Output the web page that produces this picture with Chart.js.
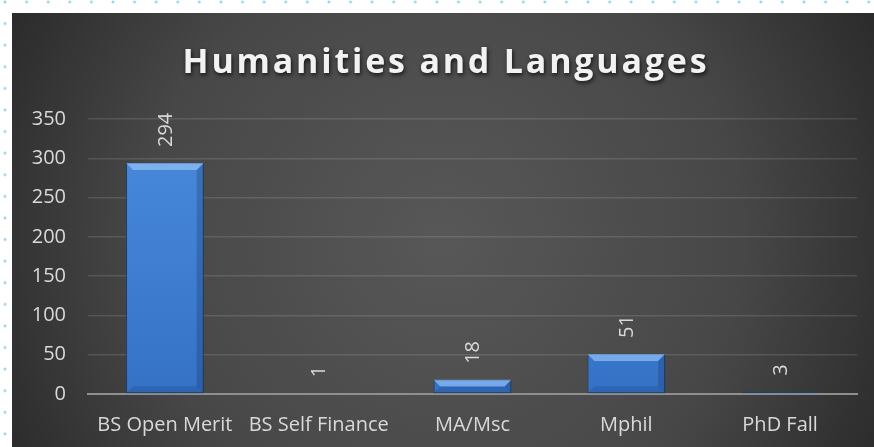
<!DOCTYPE html>
<html>
<head>
<meta charset="utf-8">
<script src="https://cdn.jsdelivr.net/npm/chart.js@4"></script>
<style>
  html, body { margin: 0; padding: 0; }
  body {
    width: 874px; height: 447px; position: relative; overflow: hidden;
    background-color: #fff;
    background-image: radial-gradient(circle, #9ad6ea 1.3px, transparent 1.7px);
    background-size: 21.6px 21.6px;
    background-position: -5.8px -8.8px;
  }
  #wrap { position: absolute; left: 12px; top: 13px; width: 862px; height: 434px; }
</style>
</head>
<body>
<div id="wrap"><canvas id="myChart" width="862" height="434"></canvas></div>
<script>
const titleText = "Humanities and Languages";
const categories = ["BS Open Merit", "BS Self Finance", "MA/Msc", "Mphil", "PhD Fall"];
const admissions = [294, 1, 18, 51, 3];
const yTicks = [0, 50, 100, 150, 200, 250, 300, 350];

const FONT = "'Open Sans', sans-serif";

// dark radial background behind everything
const backgroundPlugin = {
  id: "bg",
  beforeDraw(chart) {
    const { ctx, width, height } = chart;
    const g = ctx.createRadialGradient(width * 0.5, height * 0.52, 10, width * 0.5, height * 0.52, width * 0.62);
    g.addColorStop(0, "#575757");
    g.addColorStop(0.55, "#474747");
    g.addColorStop(1, "#242424");
    ctx.save();
    ctx.fillStyle = g;
    ctx.fillRect(0, 0, width, height);
    ctx.restore();
  },
};

// title with letter spacing and soft shadow
const titlePlugin = {
  id: "fancyTitle",
  afterDraw(chart) {
    const { ctx, width } = chart;
    ctx.save();
    ctx.font = "bold 34px " + FONT;
    ctx.letterSpacing = "2.8px";
    ctx.textAlign = "center";
    ctx.textBaseline = "middle";
    ctx.shadowColor = "rgba(0,0,0,0.75)";
    ctx.shadowBlur = 4;
    ctx.shadowOffsetX = 1;
    ctx.shadowOffsetY = 2;
    ctx.fillStyle = "#f2f2f2";
    ctx.fillText(titleText, width / 2 + 3, 50);
    ctx.restore();
  },
};

// bevel on the bars and rotated value labels
const barExtras = {
  id: "barExtras",
  afterDatasetsDraw(chart) {
    const { ctx } = chart;
    const meta = chart.getDatasetMeta(0);
    meta.data.forEach((bar, i) => {
      const p = bar.getProps(["x", "y", "base", "width"], true);
      const left = p.x - p.width / 2, right = p.x + p.width / 2;
      const h = p.base - p.y;
      const b = Math.min(7, h / 2);
      ctx.save();
      if (h > 3) {
        ctx.fillStyle = "rgba(160,205,255,0.6)";
        ctx.beginPath();
        ctx.moveTo(left, p.y);
        ctx.lineTo(right, p.y);
        ctx.lineTo(right - b, p.y + b);
        ctx.lineTo(left + b, p.y + b);
        ctx.closePath();
        ctx.fill();
        ctx.fillStyle = "rgba(10,30,70,0.22)";
        ctx.beginPath();
        ctx.moveTo(right, p.y);
        ctx.lineTo(right, p.base);
        ctx.lineTo(right - b, p.base - b);
        ctx.lineTo(right - b, p.y + b);
        ctx.closePath();
        ctx.fill();
        ctx.fillStyle = "rgba(10,30,70,0.15)";
        ctx.beginPath();
        ctx.moveTo(left, p.base);
        ctx.lineTo(right, p.base);
        ctx.lineTo(right - b, p.base - b);
        ctx.lineTo(left + b, p.base - b);
        ctx.closePath();
        ctx.fill();
      }
      ctx.translate(p.x, p.y - 16);
      ctx.rotate(-Math.PI / 2);
      ctx.font = "20px " + FONT;
      ctx.fillStyle = "#d9d9d9";
      ctx.textAlign = "left";
      ctx.textBaseline = "middle";
      ctx.fillText(String(admissions[i]), 0, 1);
      ctx.restore();
    });
  },
};

const ctx = document.getElementById("myChart");
const myChart = new Chart(ctx, {
  type: "bar",
  data: {
    labels: categories,
    datasets: [
      {
        data: admissions,
        backgroundColor: (c) => {
          const area = c.chart.chartArea;
          if (!area) return "#3a78c8";
          const g = c.chart.ctx.createLinearGradient(0, area.top, 0, area.bottom);
          g.addColorStop(0, "#4a8bdc");
          g.addColorStop(1, "#3572c6");
          return g;
        },
        borderColor: "#1b3f72",
        borderWidth: 1,
        borderSkipped: false,
        barPercentage: 0.505,
        categoryPercentage: 1,
      },
    ],
  },
  options: {
    responsive: false,
    animation: false,
    layout: { padding: { top: 106, right: 17, left: 0, bottom: 0 } },
    plugins: {
      legend: { display: false },
      title: { display: false },
      tooltip: { enabled: false },
    },
    scales: {
      x: {
        grid: { display: false },
        border: { display: true, color: "#8f8f8f", width: 2 },
        ticks: {
          color: "#d9d9d9",
          font: { family: FONT, size: 20 },
          padding: 11,
          maxRotation: 0,
          autoSkip: false,
        },
        afterFit(scale) { scale.height = 53; },
      },
      y: {
        min: 0,
        max: 350,
        afterBuildTicks(scale) { scale.ticks = yTicks.map((v) => ({ value: v })); },
        grid: {
          color: (c) => (c.index === 0 ? "rgba(0,0,0,0)" : "rgba(255,255,255,0.12)"),
          lineWidth: 1.5,
          drawTicks: false,
        },
        border: { display: false },
        ticks: {
          color: "#d9d9d9",
          font: { family: FONT, size: 20 },
          padding: 22,
        },
        afterFit(scale) { scale.width = 76; },
      },
    },
  },
  plugins: [backgroundPlugin, barExtras, titlePlugin],
});
</script>
</body>
</html>
